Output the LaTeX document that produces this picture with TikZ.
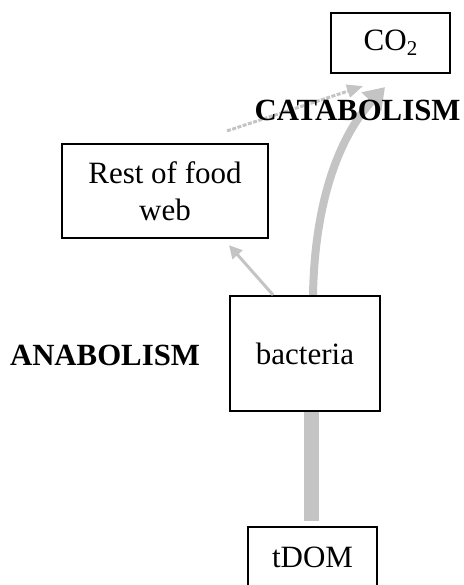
\documentclass[tikz,border=0pt]{standalone}
\usepackage{fontspec}
\setmainfont{Liberation Serif}
\usetikzlibrary{arrows.meta}
\definecolor{flow}{HTML}{C4C4C4}
\tikzset{
  box/.style={draw=black, line width=2.2pt, fill=white, inner sep=0pt, align=center,
    font=\fontsize{31}{37}\selectfont},
  lbl/.style={inner sep=0pt, font=\fontsize{30.8}{36}\selectfont\bfseries},
  flowline/.style={draw=flow},
}
\begin{document}
\begin{tikzpicture}[x=1pt,y=-1pt]
\useasboundingbox (0,0) rectangle (463,585);
\clip (0,0) rectangle (463,585);
% boxes
\node[box, minimum width=119pt, minimum height=60pt] (co2) at (390.5,43) {CO\raisebox{-0.35ex}{\fontsize{21}{21}\selectfont 2}};
\node[box, minimum width=206pt, minimum height=94pt] (rest) at (165,191) {Rest of food\\web};
\node[box, minimum width=150pt, minimum height=115pt] (bact) at (305,353.5) {\raisebox{-2pt}{bacteria}};
\node[box, minimum width=129pt, minimum height=60pt] (tdom) at (312.5,557) {tDOM};
% connectors
\draw[flowline, line width=15pt] ([xshift=6.5pt]bact.south) -- ([xshift=-1pt,yshift=5pt]tdom.north);
\draw[flowline, line width=3pt, -{Triangle[length=13pt,width=13pt]}]
  ([xshift=-32pt]bact.north) -- ([xshift=64pt,yshift=-6pt]rest.south);
\draw[flowline, line width=3pt, dash pattern=on 4pt off 1.5pt, -{Triangle[length=16pt,width=13pt]}]
  ([xshift=62pt,yshift=12pt]rest.north) -- ([xshift=-27.5pt,yshift=-12pt]co2.south);
\coordinate (cstart) at ([xshift=8pt]bact.north);
\coordinate (cend) at ([xshift=-5.5pt,yshift=-13pt]co2.south);
\draw[flowline, line width=8pt, -{Triangle[length=20pt,width=26pt]}]
  (cstart) .. controls (315,190) and (345,130) .. (cend);
% labels
\node[lbl] (cat) at (357.5,110) {CATABOLISM};
\node[lbl] (ana) at (105,355) {ANABOLISM};
\end{tikzpicture}
\end{document}
